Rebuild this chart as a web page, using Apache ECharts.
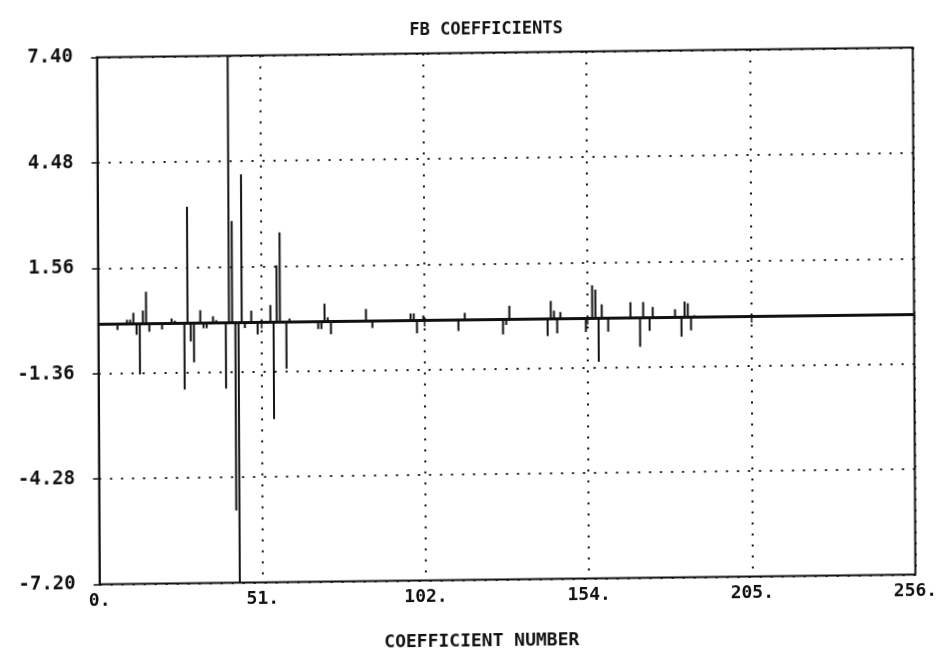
<!DOCTYPE html>
<html>
<head>
<meta charset="utf-8">
<title>FB COEFFICIENTS</title>
<script src="https://cdn.jsdelivr.net/npm/echarts@6/dist/echarts.min.js"></script>
<style>
  html, body { margin: 0; padding: 0; background: #fff; overflow: hidden; }
  /* the scanned plot sits slightly askew on the page */
  #chart {
    width: 943px;
    height: 653px;
    transform-origin: 0 0;
    transform: matrix(1, -0.012, 0.005, 1, 0, 0);
  }
</style>
</head>
<body>
<div id="chart"></div>
<script>
// coefficient numbers that stand off the zero line, and their values
var coefIndex = [
  6, 9, 10, 11, 12, 13, 14, 15, 16, 20, 23, 24, 27, 28, 29, 30, 32, 33, 34, 36,
  37, 40, 41, 42, 43, 44, 45, 46, 48, 50, 54, 55, 56, 57, 59, 60, 69, 70, 71, 72,
  73, 84, 86, 98, 99, 100, 102, 113, 115, 127, 128, 129, 141, 142, 143, 144, 145, 153, 155, 156,
  157, 158, 160, 167, 170, 171, 173, 174, 181, 183, 184, 185, 186, 187
];
var coefValue = [
  -0.16, 0.12, 0.12, 0.31, -0.30, -1.40, 0.37, 0.89, -0.22, -0.16, 0.14, 0.08, -1.83, 3.23, -0.50, -1.08, 0.36, -0.14, -0.14, 0.19,
  0.08, -1.82, 7.40, 2.82, -5.20, -7.20, 4.11, -0.15, 0.33, -0.33, 0.48, -2.68, 1.58, 2.49, -1.29, 0.10, -0.20, -0.20, 0.50, 0.12,
  -0.35, 0.34, -0.19, 0.20, 0.20, -0.35, 0.14, -0.30, 0.20, -0.41, -0.15, 0.38, -0.47, 0.50, 0.23, -0.40, 0.19, -0.37, 0.92, 0.80,
  -1.20, 0.39, -0.37, 0.44, -0.80, 0.44, -0.36, 0.30, 0.23, -0.53, 0.44, 0.39, -0.36, 0.06
];
var xTicks = [0, 51.2, 102.4, 153.6, 204.8, 256];
var yTicks = [-7.20, -4.28, -1.36, 1.56, 4.48, 7.40];

var stems = coefIndex.map(function (n, i) { return [n, coefValue[i]]; });

var font = "DejaVu Sans Mono";
var ink = "#111";
var chart = echarts.init(document.getElementById("chart"));

var option = {
  backgroundColor: "#fff",
  animation: false,
  title: {
    text: "FB COEFFICIENTS",
    left: 481,
    top: 22,
    textAlign: "center",
    textStyle: { fontFamily: font, fontSize: 17, fontWeight: "bold", color: ink }
  },
  grid: {
    left: 96.7,
    right: 30.5,
    top: 58.5,
    bottom: 67.5,
    outerBoundsMode: "none",
    show: true,
    borderColor: ink,
    borderWidth: 2
  },
  xAxis: {
    type: "value",
    min: xTicks[0],
    max: xTicks[xTicks.length - 1],
    interval: xTicks[1] - xTicks[0],
    name: "COEFFICIENT NUMBER",
    nameLocation: "middle",
    nameGap: 53,
    nameTextStyle: {
      fontFamily: font, fontSize: 18, fontWeight: "bold", color: ink,
      padding: [0, 52, 0, 0]
    },
    axisLine: { lineStyle: { color: ink, width: 2 } },
    axisTick: { show: true, length: 6, lineStyle: { color: ink, width: 1.5 } },
    axisLabel: {
      fontFamily: font,
      fontSize: 18,
      fontWeight: "bold",
      color: ink,
      margin: 8,
      formatter: function (v) { return Math.round(v) + "."; }
    },
    splitLine: {
      show: true,
      lineStyle: { color: ink, width: 2, type: [2, 9] }
    }
  },
  yAxis: {
    type: "value",
    min: yTicks[0],
    max: yTicks[yTicks.length - 1],
    interval: yTicks[1] - yTicks[0],
    axisLine: { show: true, lineStyle: { color: ink, width: 2 } },
    axisTick: { show: true, length: 6, lineStyle: { color: ink, width: 1.5 } },
    axisLabel: {
      fontFamily: font,
      fontSize: 19,
      fontWeight: "bold",
      color: ink,
      margin: 24,
      formatter: function (v) { return v.toFixed(2); }
    },
    splitLine: {
      show: true,
      lineStyle: { color: ink, width: 2, type: [2, 9] }
    }
  },
  series: [
    {
      type: "bar",
      data: stems,
      barWidth: 2,
      itemStyle: { color: ink },
      markLine: {
        silent: true,
        symbol: "none",
        label: { show: false },
        lineStyle: { color: ink, width: 3, type: "solid" },
        data: [{ yAxis: 0 }]
      }
    }
  ]
};

chart.setOption(option);
</script>
</body>
</html>
